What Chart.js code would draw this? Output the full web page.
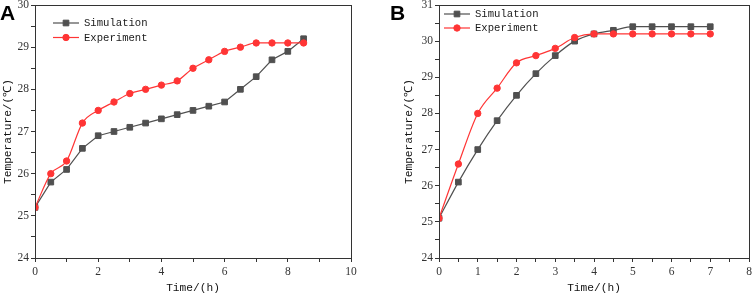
<!DOCTYPE html>
<html><head><meta charset="utf-8">
<script src="https://cdn.jsdelivr.net/npm/chart.js@4/dist/chart.umd.min.js"></script>
<style>
html,body{margin:0;padding:0;background:#fff;}
#wrap{position:relative;width:754px;height:295px;overflow:hidden;background:#fff}
canvas{position:absolute;top:0}
#ca{left:0}
#cb{left:377px}
</style></head><body>
<div id="wrap"><canvas id="ca" width="377" height="295"></canvas><canvas id="cb" width="377" height="295"></canvas></div>
<script>
// ---- Data ----
const seriesNames = ["Simulation", "Experiment"];
const timeA = [0,0.5,1,1.5,2,2.5,3,3.5,4,4.5,5,5.5,6,6.5,7,7.5,8,8.5];
const simA  = [25.2,25.8,26.1,26.6,26.9,27.0,27.1,27.2,27.3,27.4,27.5,27.6,27.7,28.0,28.3,28.7,28.9,29.2];
const expA  = [25.2,26.0,26.3,27.2,27.5,27.7,27.9,28.0,28.1,28.2,28.5,28.7,28.9,29.0,29.1,29.1,29.1,29.1];
const timeB = [0,0.5,1,1.5,2,2.5,3,3.5,4,4.5,5,5.5,6,6.5,7];
const simB  = [25.1,26.1,27.0,27.8,28.5,29.1,29.6,30.0,30.2,30.3,30.4,30.4,30.4,30.4,30.4];
const expB  = [25.1,26.6,28.0,28.7,29.4,29.6,29.8,30.1,30.2,30.2,30.2,30.2,30.2,30.2,30.2];
const xRangeA = [0,10];
const yRangeA = [24,30];
const xRangeB = [0,8];
const yRangeB = [24,31];
const xTitle = "Time/(h)";
const yTitle = "Temperature/(℃)";

const GRAY = "#505050";
const RED = "#ff3535";
const AXIS = "#333333";
const TICKFONT = {family: "Liberation Serif", size: 11.5};
const TITLEFONT = {family: "Liberation Mono", size: 11.2, weight: "normal"};
const LEGFONT = "10.6px 'Liberation Mono'";

function pts(xs, ys){ return xs.map((x,i)=>({x:x, y:ys[i]})); }

function makeChart(id, p){
  const frame = {
    id: 'frame_' + id,
    afterDraw(chart){
      const {ctx, chartArea:a} = chart;
      ctx.save();
      ctx.strokeStyle = AXIS; ctx.lineWidth = 1;
      ctx.strokeRect(Math.round(a.left)+0.5, Math.round(a.top)+0.5, Math.round(a.right-a.left), Math.round(a.bottom-a.top));
      // panel letter
      ctx.fillStyle = "#000";
      ctx.font = "bold 21px 'Liberation Sans'";
      ctx.textBaseline = "alphabetic";
      ctx.textAlign = "left";
      ctx.fillText(p.letter, p.letterX, 20);
      // legend
      ctx.font = LEGFONT;
      ctx.textBaseline = "middle";
      chart.data.datasets.slice().sort((d1,d2)=>d1.legendIndex-d2.legendIndex).forEach((ds,i)=>{
        const y = p.legY + i*p.legGap;
        ctx.strokeStyle = ds.borderColor; ctx.lineWidth = ds.borderWidth;
        ctx.beginPath(); ctx.moveTo(p.legX, y); ctx.lineTo(p.legX + 26, y); ctx.stroke();
        ctx.fillStyle = ds.pointBackgroundColor;
        ctx.strokeStyle = ds.pointBorderColor;
        ctx.lineWidth = 1;
        Chart.helpers.drawPoint(ctx, {pointStyle: ds.pointStyle, radius: ds.pointRadius, borderWidth: 1}, p.legX + 13, y);
        ctx.fillStyle = "#1a1a1a";
        ctx.fillText(ds.label, p.legX + 31, y + 0.5);
      });
      ctx.restore();
    }
  };
  return new Chart(document.getElementById(id), {
    type: 'line',
    data: {
      datasets: [
        {label: seriesNames[0], legendIndex: 0, order: 1, data: pts(p.t, p.sim), borderColor: GRAY, backgroundColor: GRAY,
         pointBackgroundColor: GRAY, pointBorderColor: GRAY, pointStyle: 'rect', pointRadius: 4, pointBorderWidth: 1,
         borderWidth: 1.2, tension: p.simTension, cubicInterpolationMode: p.simMode, fill: false},
        {label: seriesNames[1], legendIndex: 1, order: 0, data: pts(p.t, p.exp), borderColor: RED, backgroundColor: RED,
         pointBackgroundColor: RED, pointBorderColor: RED, pointStyle: 'circle', pointRadius: 3.2, pointBorderWidth: 1,
         borderWidth: 1.2, cubicInterpolationMode: 'monotone', fill: false}
      ]
    },
    options: {
      responsive: false, animation: false, devicePixelRatio: 1,
      layout: {padding: {left: p.padL, right: p.padR, top: 3, bottom: 0}},
      plugins: {legend: {display: false}, tooltip: {enabled: false}},
      scales: {
        x: {
          type: 'linear', min: p.xr[0], max: p.xr[1],
          grid: {drawOnChartArea: false, tickLength: 4, color: AXIS, tickColor: AXIS},
          border: {color: AXIS, width: 1},
          ticks: {stepSize: p.xStep, autoSkip: false, maxRotation: 0, padding: 3, color: "#333", font: TICKFONT,
                  callback: v => (Math.abs(v / p.xLab - Math.round(v / p.xLab)) < 1e-9 ? String(v) : '')},
          title: {display: true, text: xTitle, font: TITLEFONT, color: "#111", padding: {top: 0, bottom: 0}},
          afterFit: s => { s.height = 37; s.paddingLeft = 0; s.paddingRight = 0; }
        },
        y: {
          type: 'linear', min: p.yr[0], max: p.yr[1],
          grid: {drawOnChartArea: false, tickLength: 4, color: AXIS, tickColor: AXIS},
          border: {color: AXIS, width: 1},
          ticks: {stepSize: 0.5, autoSkip: false, padding: 2, color: "#333", font: TICKFONT,
                  callback: v => (Number.isInteger(v) ? String(v) : '')},
          title: {display: true, text: yTitle, font: TITLEFONT, color: "#111", padding: {top: 1.5, bottom: 0}},
          afterFit: s => { s.width = p.yW; s.paddingTop = 0; s.paddingBottom = 0; }
        }
      }
    },
    plugins: [frame]
  });
}

makeChart('ca', {t: timeA, sim: simA, exp: expA, xr: xRangeA, yr: yRangeA, xStep: 1, xLab: 2,
  padL: 0, padR: 26, yW: 35, simTension: 0, simMode: 'default',
  letter: 'A', letterX: 0, legX: 53, legY: 23, legGap: 14.5});
makeChart('cb', {t: timeB, sim: simB, exp: expB, xr: xRangeB, yr: yRangeB, xStep: 0.5, xLab: 1,
  padL: 24, padR: 3, yW: 38, simTension: 0.3, simMode: 'monotone',
  letter: 'B', letterX: 13, legX: 67, legY: 14, legGap: 14});
</script>
</body></html>
